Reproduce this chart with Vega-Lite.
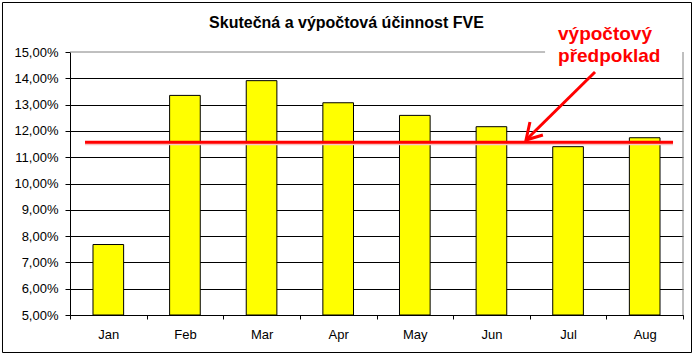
{
  "$schema": "https://vega.github.io/schema/vega-lite/v6.json",
  "width": 613,
  "height": 263,
  "padding": {"left": 70, "top": 52, "right": 10, "bottom": 40},
  "autosize": {"type": "none"},
  "background": "white",
  "config": {
    "view": {"stroke": null},
    "font": "Liberation Sans",
    "axis": {"labelFont": "Liberation Sans", "labelFontSize": 13, "labelColor": "black"}
  },
  "datasets": {
    "months": [
      {"month": "Jan", "value": 7.68},
      {"month": "Feb", "value": 13.35},
      {"month": "Mar", "value": 13.91},
      {"month": "Apr", "value": 13.07},
      {"month": "May", "value": 12.59},
      {"month": "Jun", "value": 12.16},
      {"month": "Jul", "value": 11.40},
      {"month": "Aug", "value": 11.74}
    ],
    "reference": [
      {"label": "výpočtový předpoklad", "value": 11.57, "title": "Skutečná a výpočtová účinnost FVE"}
    ]
  },
  "layer": [
    {
      "data": {"name": "months"},
      "mark": {"type": "bar", "fill": "#FFFF00", "stroke": "black", "strokeWidth": 1, "width": {"band": 0.4}},
      "encoding": {
        "x": {
          "field": "month",
          "type": "nominal",
          "sort": null,
          "scale": {"paddingInner": 0, "paddingOuter": 0},
          "axis": {
            "title": null,
            "labelAngle": 0,
            "tickBand": "extent",
            "ticks": true,
            "tickSize": 4,
            "tickColor": "black",
            "domainColor": "black",
            "labelPadding": 9,
            "grid": false
          }
        },
        "y": {
          "field": "value",
          "type": "quantitative",
          "scale": {"domain": [5, 15], "nice": false, "zero": false},
          "axis": {
            "title": null,
            "values": [5, 6, 7, 8, 9, 10, 11, 12, 13, 14, 15],
            "labelExpr": "replace(format(datum.value, '.2f'), '.', ',') + '%'",
            "tickSize": 5,
            "tickColor": "black",
            "domainColor": "black",
            "labelPadding": 7,
            "grid": true,
            "gridColor": {"condition": {"test": "datum.value >= 15", "value": "transparent"}, "value": "black"},
            "gridWidth": 1
          }
        },
        "y2": {"datum": 5}
      }
    },
    {
      "layer": [
        {
          "data": {"name": "reference"},
          "mark": {"type": "rule", "color": "#808080", "strokeWidth": 1},
          "encoding": {
            "x": {"datum": 0, "type": "quantitative", "scale": {"domain": [0, 8], "nice": false, "zero": false}, "axis": null},
            "x2": {"datum": 6.2},
            "y": {"datum": 15, "type": "quantitative", "scale": {"domain": [5, 15], "nice": false, "zero": false}, "axis": null}
          }
        },
        {
          "data": {"name": "reference"},
          "mark": {"type": "rule", "color": "#808080", "strokeWidth": 1},
          "encoding": {
            "x": {"datum": 8, "type": "quantitative", "scale": {"domain": [0, 8], "nice": false, "zero": false}, "axis": null},
            "y": {"datum": 5, "type": "quantitative", "scale": {"domain": [5, 15], "nice": false, "zero": false}, "axis": null},
            "y2": {"datum": 15}
          }
        },
        {
          "data": {"name": "reference"},
          "mark": {"type": "rule", "color": "#F7C4C4", "strokeWidth": 2, "yOffset": 2},
          "encoding": {
            "x": {"datum": 0.196, "type": "quantitative", "scale": {"domain": [0, 8], "nice": false, "zero": false}, "axis": null},
            "x2": {"datum": 7.87},
            "y": {"field": "value", "type": "quantitative", "scale": {"domain": [5, 15], "nice": false, "zero": false}, "axis": null}
          }
        },
        {
          "data": {"name": "reference"},
          "mark": {"type": "rule", "color": "#FF0000", "strokeWidth": 3},
          "encoding": {
            "x": {"datum": 0.196, "type": "quantitative", "scale": {"domain": [0, 8], "nice": false, "zero": false}, "axis": null},
            "x2": {"datum": 7.87},
            "y": {"field": "value", "type": "quantitative", "scale": {"domain": [5, 15], "nice": false, "zero": false}, "axis": null}
          }
        },
        {
          "data": {"name": "reference"},
          "mark": {"type": "rule", "color": "#FF0000", "strokeWidth": 3},
          "encoding": {
            "x": {"datum": 6.852, "type": "quantitative", "scale": {"domain": [0, 8], "nice": false, "zero": false}, "axis": null},
            "x2": {"datum": 5.951},
            "y": {"datum": 14.24, "type": "quantitative", "scale": {"domain": [5, 15], "nice": false, "zero": false}, "axis": null},
            "y2": {"datum": 11.654}
          }
        },
        {
          "data": {"name": "reference"},
          "mark": {"type": "point", "shape": "M0.22,-1L0,0L0.94,-0.28", "size": 1296, "filled": false, "stroke": "#FF0000", "strokeWidth": 3, "opacity": 1},
          "encoding": {
            "x": {"datum": 5.951, "type": "quantitative", "scale": {"domain": [0, 8], "nice": false, "zero": false}, "axis": null},
            "y": {"datum": 11.654, "type": "quantitative", "scale": {"domain": [5, 15], "nice": false, "zero": false}, "axis": null}
          }
        },
        {
          "data": {"name": "reference"},
          "mark": {"type": "text", "color": "#FF0000", "font": "Liberation Sans", "fontSize": 19, "fontWeight": "bold", "align": "left", "baseline": "alphabetic", "lineBreak": " ", "lineHeight": 22},
          "encoding": {
            "x": {"datum": 6.369, "type": "quantitative", "scale": {"domain": [0, 8], "nice": false, "zero": false}, "axis": null},
            "y": {"datum": 15.47, "type": "quantitative", "scale": {"domain": [5, 15], "nice": false, "zero": false}, "axis": null},
            "text": {"field": "label"}
          }
        },
        {
          "data": {"name": "reference"},
          "mark": {"type": "text", "color": "black", "font": "Liberation Sans", "fontSize": 16, "fontWeight": "bold", "align": "center", "baseline": "alphabetic"},
          "encoding": {
            "x": {"datum": 3.608, "type": "quantitative", "scale": {"domain": [0, 8], "nice": false, "zero": false}, "axis": null},
            "y": {"datum": 15.894, "type": "quantitative", "scale": {"domain": [5, 15], "nice": false, "zero": false}, "axis": null},
            "text": {"field": "title"}
          }
        },
        {
          "data": {"name": "reference"},
          "mark": {"type": "rect", "fill": null, "fillOpacity": 0, "stroke": "black", "strokeWidth": 1},
          "encoding": {
            "x": {"datum": -0.881, "type": "quantitative", "scale": {"domain": [0, 8], "nice": false, "zero": false}, "axis": null},
            "x2": {"datum": 8.111},
            "y": {"datum": 16.882, "type": "quantitative", "scale": {"domain": [5, 15], "nice": false, "zero": false}, "axis": null},
            "y2": {"datum": 3.574}
          }
        }
      ]
    }
  ],
  "resolve": {"scale": {"x": "independent", "y": "independent"}, "axis": {"x": "independent", "y": "independent"}}
}
